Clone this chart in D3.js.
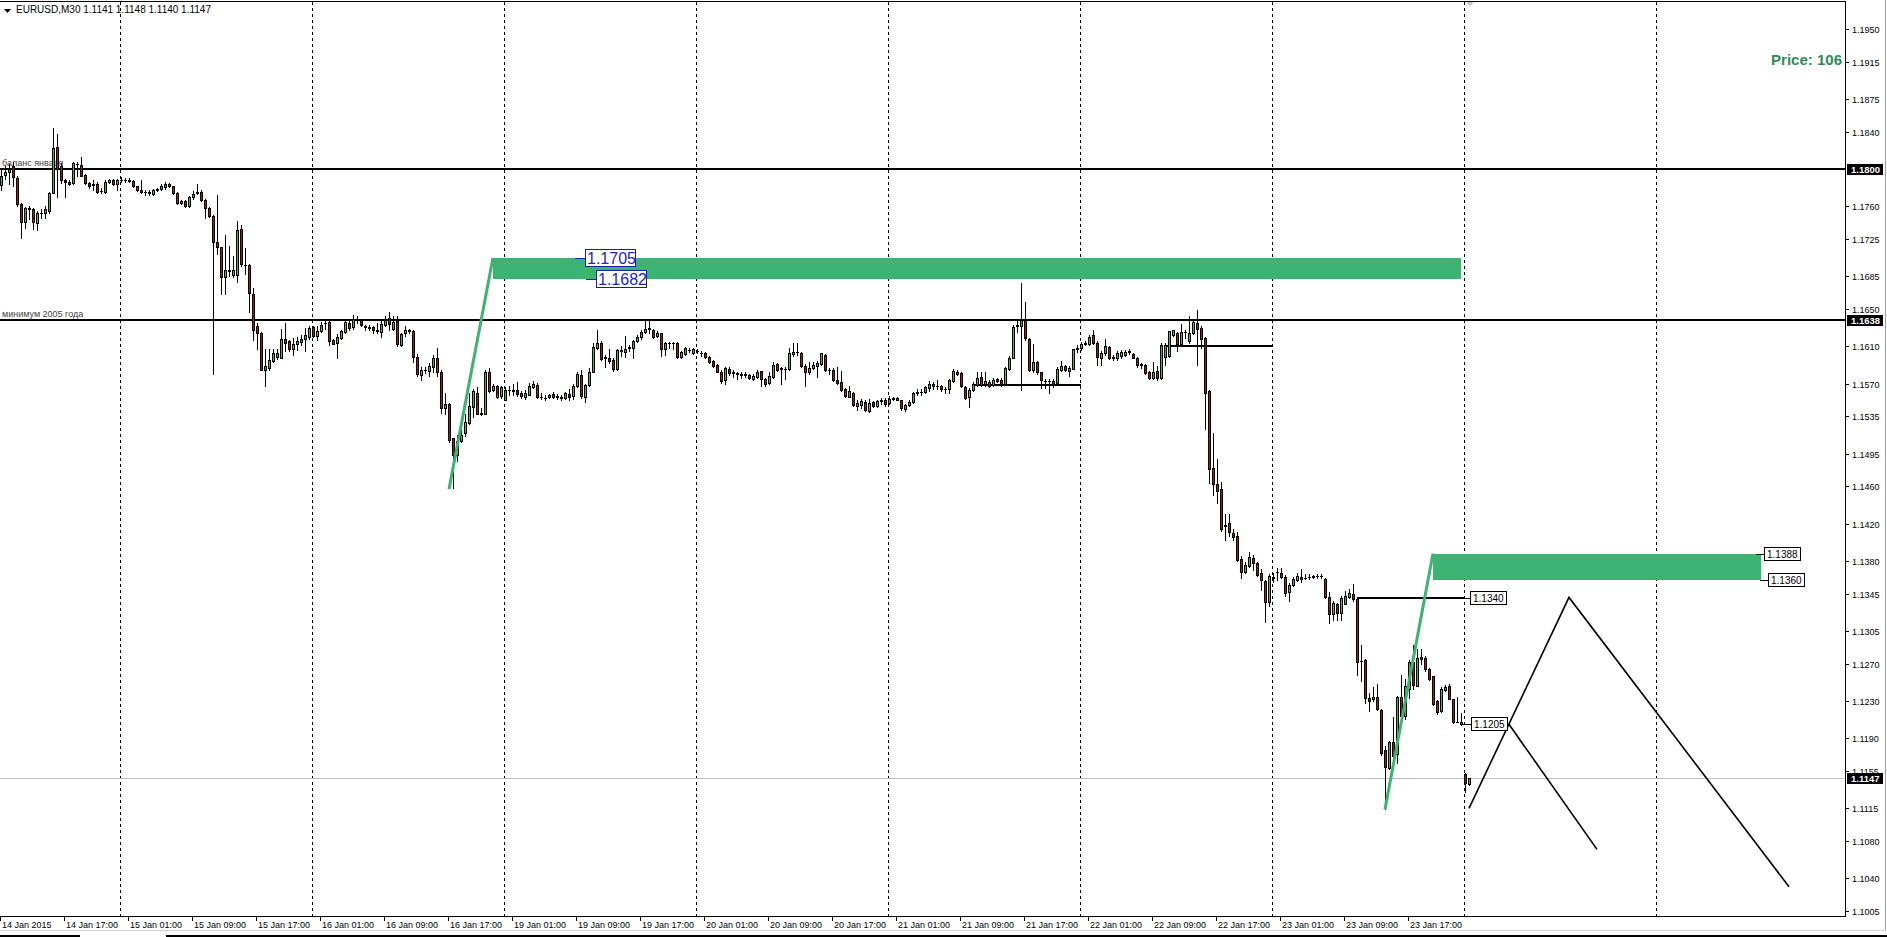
<!DOCTYPE html>
<html><head><meta charset="utf-8">
<script src="https://cdn.jsdelivr.net/npm/d3@7"></script>
<style>html,body{margin:0;padding:0;background:#fff;overflow:hidden}svg{display:block}</style>
</head><body>
<svg id="chart" width="1887" height="937"></svg>
<script>
// ---------------- DATA ----------------
const symbolName = "EURUSD,M30";
const barOpen = [
1.1783,1.1794,1.1797,1.1803,1.1790,1.1762,1.1743,1.1758,1.1757,1.1742,
1.1753,1.1753,1.1755,1.1774,1.1824,1.1803,1.1788,1.1786,1.1785,1.1805,
1.1804,1.1794,1.1785,1.1783,1.1784,1.1776,1.1775,1.1786,1.1788,1.1784,
1.1788,1.1788,1.1788,1.1787,1.1782,1.1778,1.1775,1.1775,1.1773,1.1778,
1.1779,1.1781,1.1784,1.1782,1.1774,1.1764,1.1766,1.1760,1.1770,1.1774,
1.1775,1.1767,1.1758,1.1750,1.1722,1.1716,1.1684,1.1692,1.1686,1.1686,
1.1736,1.1697,1.1697,1.1666,1.1632,1.1624,1.1585,1.1587,1.1594,1.1599,
1.1598,1.1618,1.1616,1.1607,1.1613,1.1615,1.1618,1.1620,1.1631,1.1621,
1.1626,1.1635,1.1636,1.1617,1.1614,1.1619,1.1625,1.1635,1.1631,1.1638,
1.1638,1.1632,1.1631,1.1631,1.1627,1.1625,1.1633,1.1640,1.1629,1.1637,
1.1611,1.1624,1.1627,1.1626,1.1599,1.1579,1.1585,1.1584,1.1588,1.1597,
1.1583,1.1544,1.1548,1.1512,1.1494,1.1509,1.1517,1.1528,1.1545,1.1560,
1.1538,1.1538,1.1583,1.1563,1.1567,1.1557,1.1553,1.1563,1.1563,1.1563,
1.1560,1.1556,1.1558,1.1566,1.1569,1.1556,1.1555,1.1556,1.1559,1.1556,
1.1556,1.1555,1.1559,1.1557,1.1567,1.1579,1.1556,1.1569,1.1583,1.1608,
1.1614,1.1597,1.1598,1.1595,1.1586,1.1605,1.1604,1.1608,1.1608,1.1616,
1.1620,1.1625,1.1629,1.1628,1.1621,1.1624,1.1607,1.1614,1.1614,1.1614,
1.1599,1.1602,1.1606,1.1603,1.1605,1.1603,1.1603,1.1599,1.1594,1.1590,
1.1583,1.1574,1.1586,1.1581,1.1581,1.1580,1.1580,1.1579,1.1575,1.1577,
1.1584,1.1575,1.1571,1.1577,1.1591,1.1586,1.1586,1.1586,1.1602,1.1604,
1.1603,1.1589,1.1582,1.1587,1.1589,1.1591,1.1601,1.1585,1.1585,1.1574,
1.1572,1.1564,1.1556,1.1560,1.1546,1.1547,1.1550,1.1541,1.1550,1.1546,
1.1551,1.1552,1.1549,1.1554,1.1555,1.1552,1.1543,1.1547,1.1550,1.1560,
1.1561,1.1561,1.1565,1.1570,1.1568,1.1568,1.1564,1.1564,1.1573,1.1583,
1.1581,1.1566,1.1556,1.1563,1.1569,1.1577,1.1570,1.1572,1.1569,1.1575,
1.1574,1.1570,1.1586,1.1597,1.1632,1.1632,1.1638,1.1618,1.1585,1.1593,
1.1583,1.1573,1.1573,1.1573,1.1571,1.1585,1.1589,1.1584,1.1586,1.1607,
1.1608,1.1613,1.1612,1.1622,1.1614,1.1598,1.1603,1.1609,1.1598,1.1597,
1.1600,1.1601,1.1604,1.1602,1.1597,1.1591,1.1590,1.1583,1.1576,1.1584,
1.1576,1.1599,1.1600,1.1622,1.1624,1.1612,1.1625,1.1616,1.1624,1.1635,
1.1630,1.1619,1.1562,1.1480,1.1462,1.1457,1.1417,1.1421,1.1410,1.1407,
1.1382,1.1368,1.1375,1.1383,1.1378,1.1367,1.1359,1.1336,1.1362,1.1368,
1.1367,1.1363,1.1347,1.1354,1.1360,1.1363,1.1362,1.1363,1.1363,1.1364,
1.1364,1.1361,1.1341,1.1323,1.1334,1.1324,1.1334,1.1341,1.1345,1.1339,
1.1273,1.1274,1.1233,1.1232,1.1234,1.1220,1.1177,1.1158,1.1186,1.1173,
1.1234,1.1214,1.1243,1.1272,1.1246,1.1277,1.1276,1.1264,1.1257,1.1230,
1.1219,1.1242,1.1246,1.1232,1.1208,1.1208,1.1152,1.1141];
const barHigh = [
1.1800,1.1803,1.1805,1.1807,1.1792,1.1764,1.1759,1.1760,1.1758,1.1755,
1.1757,1.1760,1.1775,1.1844,1.1838,1.1806,1.1789,1.1788,1.1807,1.1808,
1.1813,1.1795,1.1786,1.1788,1.1786,1.1780,1.1788,1.1789,1.1789,1.1789,
1.1791,1.1790,1.1790,1.1788,1.1782,1.1788,1.1777,1.1777,1.1779,1.1780,
1.1784,1.1786,1.1785,1.1782,1.1775,1.1767,1.1767,1.1771,1.1776,1.1784,
1.1777,1.1768,1.1759,1.1751,1.1772,1.1716,1.1729,1.1718,1.1707,1.1744,
1.1740,1.1715,1.1698,1.1672,1.1635,1.1625,1.1607,1.1607,1.1607,1.1607,
1.1629,1.1635,1.1617,1.1619,1.1620,1.1622,1.1630,1.1632,1.1632,1.1632,
1.1636,1.1637,1.1637,1.1618,1.1623,1.1627,1.1637,1.1639,1.1644,1.1642,
1.1639,1.1633,1.1633,1.1632,1.1635,1.1639,1.1642,1.1647,1.1643,1.1643,
1.1624,1.1632,1.1629,1.1627,1.1602,1.1588,1.1588,1.1592,1.1601,1.1608,
1.1585,1.1560,1.1549,1.1512,1.1515,1.1525,1.1537,1.1560,1.1564,1.1566,
1.1544,1.1585,1.1587,1.1570,1.1569,1.1568,1.1566,1.1568,1.1570,1.1572,
1.1562,1.1563,1.1571,1.1573,1.1571,1.1560,1.1558,1.1559,1.1561,1.1559,
1.1558,1.1561,1.1564,1.1570,1.1582,1.1585,1.1570,1.1587,1.1614,1.1627,
1.1616,1.1601,1.1607,1.1597,1.1607,1.1610,1.1621,1.1611,1.1617,1.1622,
1.1628,1.1638,1.1638,1.1629,1.1626,1.1624,1.1615,1.1615,1.1615,1.1615,
1.1605,1.1609,1.1608,1.1608,1.1607,1.1605,1.1604,1.1600,1.1595,1.1591,
1.1585,1.1588,1.1588,1.1585,1.1583,1.1582,1.1582,1.1580,1.1580,1.1585,
1.1584,1.1576,1.1582,1.1593,1.1592,1.1588,1.1588,1.1608,1.1614,1.1614,
1.1604,1.1591,1.1593,1.1593,1.1594,1.1603,1.1602,1.1587,1.1587,1.1588,
1.1584,1.1565,1.1567,1.1561,1.1552,1.1554,1.1552,1.1554,1.1551,1.1552,
1.1555,1.1555,1.1557,1.1556,1.1556,1.1553,1.1548,1.1552,1.1561,1.1564,
1.1564,1.1567,1.1573,1.1572,1.1574,1.1569,1.1566,1.1575,1.1586,1.1585,
1.1582,1.1568,1.1565,1.1572,1.1582,1.1583,1.1582,1.1574,1.1576,1.1576,
1.1576,1.1588,1.1600,1.1633,1.1639,1.1678,1.1658,1.1619,1.1613,1.1594,
1.1583,1.1575,1.1575,1.1575,1.1588,1.1594,1.1590,1.1589,1.1607,1.1611,
1.1615,1.1616,1.1622,1.1628,1.1616,1.1605,1.1618,1.1610,1.1601,1.1605,
1.1606,1.1606,1.1607,1.1603,1.1599,1.1592,1.1591,1.1584,1.1593,1.1589,
1.1614,1.1614,1.1626,1.1628,1.1625,1.1634,1.1628,1.1643,1.1638,1.1649,
1.1632,1.1620,1.1563,1.1517,1.1489,1.1465,1.1430,1.1430,1.1414,1.1411,
1.1385,1.1379,1.1390,1.1386,1.1379,1.1371,1.1360,1.1366,1.1367,1.1373,
1.1372,1.1365,1.1356,1.1363,1.1367,1.1371,1.1366,1.1366,1.1365,1.1366,
1.1366,1.1362,1.1347,1.1337,1.1335,1.1342,1.1348,1.1350,1.1355,1.1339,
1.1290,1.1275,1.1239,1.1245,1.1248,1.1221,1.1182,1.1187,1.1213,1.1235,
1.1258,1.1254,1.1274,1.1290,1.1286,1.1286,1.1278,1.1265,1.1257,1.1231,
1.1245,1.1247,1.1248,1.1232,1.1234,1.1217,1.1153,1.1148];
const barLow = [
1.1778,1.1789,1.1784,1.1782,1.1760,1.1726,1.1737,1.1746,1.1736,1.1735,
1.1748,1.1748,1.1753,1.1774,1.1770,1.1785,1.1770,1.1783,1.1784,1.1793,
1.1792,1.1784,1.1780,1.1778,1.1774,1.1774,1.1774,1.1785,1.1783,1.1778,
1.1786,1.1786,1.1786,1.1781,1.1776,1.1774,1.1772,1.1772,1.1772,1.1776,
1.1778,1.1779,1.1781,1.1773,1.1763,1.1763,1.1759,1.1759,1.1768,1.1773,
1.1766,1.1748,1.1749,1.1580,1.1709,1.1666,1.1666,1.1685,1.1684,1.1679,
1.1696,1.1687,1.1647,1.1617,1.1607,1.1585,1.1567,1.1585,1.1593,1.1596,
1.1597,1.1605,1.1605,1.1601,1.1606,1.1611,1.1605,1.1618,1.1620,1.1617,
1.1625,1.1629,1.1611,1.1612,1.1598,1.1618,1.1624,1.1628,1.1629,1.1635,
1.1632,1.1628,1.1627,1.1624,1.1624,1.1620,1.1632,1.1628,1.1628,1.1610,
1.1610,1.1621,1.1624,1.1593,1.1578,1.1574,1.1581,1.1578,1.1583,1.1578,
1.1539,1.1537,1.1508,1.1458,1.1487,1.1507,1.1514,1.1527,1.1534,1.1537,
1.1536,1.1537,1.1561,1.1562,1.1555,1.1555,1.1552,1.1558,1.1558,1.1557,
1.1555,1.1554,1.1558,1.1565,1.1555,1.1554,1.1552,1.1555,1.1555,1.1554,
1.1552,1.1554,1.1553,1.1554,1.1566,1.1555,1.1550,1.1568,1.1582,1.1607,
1.1595,1.1588,1.1592,1.1584,1.1585,1.1600,1.1599,1.1605,1.1598,1.1615,
1.1618,1.1624,1.1624,1.1619,1.1620,1.1600,1.1601,1.1608,1.1607,1.1598,
1.1598,1.1601,1.1604,1.1602,1.1603,1.1600,1.1598,1.1592,1.1588,1.1582,
1.1571,1.1570,1.1579,1.1577,1.1575,1.1576,1.1577,1.1575,1.1574,1.1576,
1.1568,1.1568,1.1570,1.1576,1.1584,1.1570,1.1575,1.1585,1.1600,1.1601,
1.1588,1.1568,1.1580,1.1586,1.1577,1.1590,1.1584,1.1580,1.1573,1.1570,
1.1562,1.1556,1.1556,1.1546,1.1542,1.1544,1.1541,1.1540,1.1545,1.1545,
1.1548,1.1546,1.1548,1.1553,1.1552,1.1542,1.1541,1.1546,1.1549,1.1558,
1.1558,1.1560,1.1562,1.1564,1.1564,1.1562,1.1560,1.1560,1.1572,1.1579,
1.1566,1.1554,1.1545,1.1562,1.1568,1.1568,1.1568,1.1566,1.1568,1.1572,
1.1568,1.1569,1.1585,1.1597,1.1625,1.1563,1.1617,1.1584,1.1582,1.1580,
1.1565,1.1565,1.1560,1.1566,1.1569,1.1584,1.1584,1.1578,1.1586,1.1604,
1.1606,1.1611,1.1611,1.1613,1.1590,1.1590,1.1601,1.1596,1.1595,1.1595,
1.1597,1.1600,1.1602,1.1597,1.1588,1.1587,1.1580,1.1575,1.1575,1.1574,
1.1575,1.1590,1.1599,1.1621,1.1605,1.1611,1.1619,1.1614,1.1623,1.1590,
1.1608,1.1521,1.1464,1.1451,1.1442,1.1412,1.1402,1.1407,1.1403,1.1380,
1.1362,1.1367,1.1374,1.1370,1.1364,1.1349,1.1315,1.1332,1.1357,1.1360,
1.1362,1.1342,1.1337,1.1353,1.1359,1.1358,1.1361,1.1361,1.1362,1.1362,
1.1362,1.1340,1.1314,1.1317,1.1317,1.1317,1.1334,1.1340,1.1337,1.1258,
1.1251,1.1228,1.1219,1.1230,1.1220,1.1172,1.1114,1.1157,1.1171,1.1164,
1.1212,1.1211,1.1233,1.1243,1.1246,1.1270,1.1262,1.1253,1.1226,1.1216,
1.1218,1.1241,1.1232,1.1206,1.1207,1.1204,1.1133,1.1140];
const barClose = [
1.1793,1.1797,1.1800,1.1791,1.1762,1.1743,1.1758,1.1757,1.1743,1.1753,
1.1753,1.1757,1.1774,1.1823,1.1800,1.1788,1.1786,1.1784,1.1806,1.1805,
1.1793,1.1785,1.1782,1.1784,1.1775,1.1776,1.1786,1.1788,1.1784,1.1788,
1.1788,1.1788,1.1787,1.1782,1.1777,1.1775,1.1775,1.1774,1.1778,1.1779,
1.1782,1.1784,1.1782,1.1774,1.1764,1.1766,1.1760,1.1770,1.1773,1.1775,
1.1767,1.1758,1.1750,1.1722,1.1716,1.1684,1.1692,1.1691,1.1692,1.1735,
1.1698,1.1697,1.1667,1.1628,1.1624,1.1585,1.1589,1.1595,1.1603,1.1603,
1.1618,1.1614,1.1607,1.1613,1.1616,1.1618,1.1622,1.1630,1.1621,1.1626,
1.1633,1.1635,1.1616,1.1613,1.1620,1.1626,1.1636,1.1630,1.1639,1.1638,
1.1633,1.1631,1.1630,1.1627,1.1626,1.1634,1.1638,1.1634,1.1636,1.1612,
1.1623,1.1627,1.1626,1.1599,1.1580,1.1585,1.1585,1.1589,1.1597,1.1583,
1.1544,1.1548,1.1510,1.1494,1.1509,1.1515,1.1529,1.1546,1.1562,1.1538,
1.1539,1.1583,1.1562,1.1567,1.1556,1.1566,1.1563,1.1563,1.1562,1.1559,
1.1557,1.1560,1.1568,1.1570,1.1556,1.1556,1.1555,1.1558,1.1556,1.1557,
1.1555,1.1560,1.1556,1.1568,1.1580,1.1557,1.1569,1.1582,1.1609,1.1614,
1.1596,1.1599,1.1594,1.1586,1.1606,1.1606,1.1607,1.1609,1.1616,1.1620,
1.1625,1.1629,1.1630,1.1620,1.1624,1.1607,1.1614,1.1614,1.1614,1.1599,
1.1604,1.1608,1.1606,1.1607,1.1605,1.1603,1.1599,1.1593,1.1589,1.1583,
1.1573,1.1587,1.1581,1.1583,1.1580,1.1579,1.1579,1.1576,1.1578,1.1583,
1.1575,1.1570,1.1578,1.1590,1.1585,1.1587,1.1586,1.1603,1.1604,1.1604,
1.1589,1.1582,1.1587,1.1590,1.1592,1.1603,1.1585,1.1585,1.1574,1.1571,
1.1563,1.1557,1.1562,1.1547,1.1549,1.1551,1.1542,1.1549,1.1546,1.1551,
1.1553,1.1548,1.1554,1.1555,1.1553,1.1544,1.1547,1.1550,1.1560,1.1561,
1.1561,1.1566,1.1570,1.1568,1.1568,1.1564,1.1564,1.1574,1.1584,1.1580,
1.1567,1.1555,1.1563,1.1570,1.1576,1.1569,1.1573,1.1568,1.1574,1.1573,
1.1570,1.1587,1.1598,1.1631,1.1633,1.1638,1.1619,1.1585,1.1593,1.1582,
1.1574,1.1573,1.1573,1.1570,1.1586,1.1589,1.1585,1.1587,1.1607,1.1608,
1.1613,1.1614,1.1620,1.1614,1.1599,1.1603,1.1610,1.1597,1.1599,1.1603,
1.1604,1.1604,1.1605,1.1598,1.1590,1.1590,1.1581,1.1576,1.1583,1.1576,
1.1611,1.1611,1.1626,1.1627,1.1613,1.1625,1.1625,1.1624,1.1636,1.1629,
1.1618,1.1560,1.1479,1.1462,1.1455,1.1414,1.1419,1.1411,1.1406,1.1381,
1.1368,1.1376,1.1384,1.1378,1.1365,1.1360,1.1336,1.1364,1.1363,1.1368,
1.1363,1.1346,1.1354,1.1361,1.1364,1.1361,1.1362,1.1363,1.1364,1.1364,
1.1364,1.1341,1.1323,1.1335,1.1324,1.1340,1.1342,1.1346,1.1339,1.1272,
1.1273,1.1233,1.1230,1.1234,1.1221,1.1174,1.1159,1.1186,1.1171,1.1234,
1.1214,1.1246,1.1272,1.1247,1.1276,1.1275,1.1264,1.1254,1.1227,1.1218,
1.1243,1.1245,1.1232,1.1207,1.1208,1.1205,1.1142,1.1147];

// time axis (bar index of each label, label text)
const timeTickBars   = [0,16,32,48,64,80,96,112,128,144,160,176,192,208,224,240,256,272,288,304,320,336,352];
const timeTickLabels = ["14 Jan 2015","14 Jan 17:00","15 Jan 01:00","15 Jan 09:00","15 Jan 17:00","16 Jan 01:00","16 Jan 09:00","16 Jan 17:00","19 Jan 01:00","19 Jan 09:00","19 Jan 17:00","20 Jan 01:00","20 Jan 09:00","20 Jan 17:00","21 Jan 01:00","21 Jan 09:00","21 Jan 17:00","22 Jan 01:00","22 Jan 09:00","22 Jan 17:00","23 Jan 01:00","23 Jan 09:00","23 Jan 17:00"];
const gridBars = [30,78,126,174,222,270,318,366,414];
// price axis ticks
const priceTicks = [1.1950,1.1915,1.1875,1.1840,1.1760,1.1725,1.1685,1.1650,1.1610,1.1570,1.1535,1.1495,1.1460,1.1420,1.1380,1.1345,1.1305,1.1270,1.1230,1.1190,1.1155,1.1115,1.1080,1.1040,1.1005];

// horizontal levels (full width) and their captions
const levelPrices = [1.1800, 1.1638];
const levelCaptions = ["баланс января", "минимум 2005 года"];
// short horizontal segments: [startBar, endBar, price]
const segStart = [243, 291, 339];
const segEnd   = [270, 318, 366];
const segPrice = [1.1569, 1.1610, 1.1340];
// green zones
const zoneStart = [123, 358];
const zoneEnd   = [365, 440];
const zoneTop   = [1.1705, 1.1388];
const zoneBottom= [1.1682, 1.1360];
// green impulse lines
const impStartBar=[112,346], impStartPrice=[1.1457,1.1114];
const impEndBar=[123,358],   impEndPrice=[1.1705,1.1388];
// projected zigzag (black)
const projA_bars=[367,392,447], projA_prices=[1.1115,1.1341,1.1031];
const projB_bars=[377,399],     projB_prices=[1.1205,1.1071];
// blue price labels
const blueLabelPrices=[1.1705,1.1682], blueLabelBars=[146,148.7];
// boxed price labels on chart
const boxLabelTexts=["1.1340","1.1205","1.1388","1.1360"];
const boxLabelPrices=[1.1340,1.1205,1.1388,1.1360];
const boxLabelBars=[367.2,367.5,440.8,441.8];
// right-axis highlighted labels
const axisMarkPrices=[1.1800,1.1638,1.1147];
const bidPrice = 1.1147;
const infoText = "Price: 106";

// ---------------- LAYOUT ----------------
const plotRight=1845, plotBottom=916;
const svg=d3.select("#chart");
const x=d3.scaleLinear().domain([0,461]).range([1,1845]);
const y=d3.scaleLinear().domain([1.1005,1.1950]).range([911,29]);
const px=i=>Math.round(x(i));
const py=p=>Math.round(y(p));
const FONT="'Liberation Sans', Arial, sans-serif";

svg.append("clipPath").attr("id","plotclip").append("rect").attr("x",0).attr("y",0).attr("width",plotRight).attr("height",plotBottom);
const plot=svg.append("g").attr("clip-path","url(#plotclip)");

// vertical dashed grid
plot.selectAll("line.grid").data(gridBars).enter().append("line")
  .attr("x1",d=>px(d)-0.5).attr("x2",d=>px(d)-0.5).attr("y1",2).attr("y2",plotBottom)
  .attr("stroke","#000").attr("stroke-width",1).attr("stroke-dasharray","3,3").attr("shape-rendering","crispEdges");

// bid line
plot.append("line").attr("x1",0).attr("x2",plotRight).attr("y1",py(bidPrice)+0.5).attr("y2",py(bidPrice)+0.5)
  .attr("stroke","#c0c0c0").attr("stroke-width",1).attr("shape-rendering","crispEdges");

// green zones
plot.selectAll("rect.zone").data(zoneStart).enter().append("rect")
  .attr("x",(d,i)=>px(d)).attr("width",(d,i)=>px(zoneEnd[i])-px(d))
  .attr("y",(d,i)=>py(zoneTop[i])).attr("height",(d,i)=>py(zoneBottom[i])-py(zoneTop[i]))
  .attr("fill","#3cb371");

// level lines
plot.selectAll("line.level").data(levelPrices).enter().append("line")
  .attr("x1",0).attr("x2",plotRight).attr("y1",d=>py(d)).attr("y2",d=>py(d))
  .attr("stroke","#000").attr("stroke-width",2).attr("shape-rendering","crispEdges");
plot.selectAll("text.cap").data(levelCaptions).enter().append("text")
  .attr("x",2).attr("y",(d,i)=>py(levelPrices[i])-3).text(d=>d)
  .attr("font-family",FONT).attr("font-size",9).attr("fill","#444");

// short segments
plot.selectAll("line.seg").data(segStart).enter().append("line")
  .attr("x1",d=>px(d)).attr("x2",(d,i)=>px(segEnd[i])).attr("y1",(d,i)=>py(segPrice[i])).attr("y2",(d,i)=>py(segPrice[i]))
  .attr("stroke","#000").attr("stroke-width",2).attr("shape-rendering","crispEdges");

// candles
const idx=d3.range(barOpen.length);
const cg=plot.append("g").attr("shape-rendering","crispEdges");
cg.selectAll("line.wick").data(idx).enter().append("line")
  .attr("x1",i=>px(i)+0.5).attr("x2",i=>px(i)+0.5)
  .attr("y1",i=>py(barHigh[i])).attr("y2",i=>py(barLow[i])+1)
  .attr("stroke","#000").attr("stroke-width",1);
cg.selectAll("rect.body").data(idx.filter(i=>py(barOpen[i])!==py(barClose[i]))).enter().append("rect")
  .attr("x",i=>px(i)-0.5).attr("width",2)
  .attr("y",i=>Math.min(py(barOpen[i]),py(barClose[i]))+0.5)
  .attr("height",i=>Math.abs(py(barOpen[i])-py(barClose[i])))
  .attr("fill",i=>barClose[i]>barOpen[i]?"#45b05f":"#9b1b1b")
  .attr("stroke","#000").attr("stroke-width",1);
cg.selectAll("line.doji").data(idx.filter(i=>py(barOpen[i])===py(barClose[i]))).enter().append("line")
  .attr("x1",i=>px(i)-1).attr("x2",i=>px(i)+2)
  .attr("y1",i=>py(barClose[i])+0.5).attr("y2",i=>py(barClose[i])+0.5)
  .attr("stroke","#000").attr("stroke-width",1);

// green impulse lines
plot.selectAll("line.imp").data(impStartBar).enter().append("line")
  .attr("x1",d=>x(d)).attr("y1",(d,i)=>y(impStartPrice[i]))
  .attr("x2",(d,i)=>x(impEndBar[i])).attr("y2",(d,i)=>y(impEndPrice[i]))
  .attr("stroke","#3cb371").attr("stroke-width",3);

// projected zigzag
const lineGen=d3.line().x(d=>x(d[0])).y(d=>y(d[1]));
plot.append("path").attr("d",lineGen(projA_bars.map((b,i)=>[b,projA_prices[i]])))
  .attr("fill","none").attr("stroke","#000").attr("stroke-width",1.6);
plot.append("path").attr("d",lineGen(projB_bars.map((b,i)=>[b,projB_prices[i]])))
  .attr("fill","none").attr("stroke","#000").attr("stroke-width",1.6);

// blue labels
const fmt=d3.format(".4f");
blueLabelPrices.forEach((p,i)=>{
  const bx=px(blueLabelBars[i]), by=py(p);
  plot.append("line").attr("x1",bx-10).attr("x2",bx).attr("y1",by+0.5).attr("y2",by+0.5)
    .attr("stroke","#1c1ca0").attr("stroke-width",1).attr("shape-rendering","crispEdges");
  plot.append("rect").attr("x",bx+0.5).attr("y",by-8.5).attr("width",50).attr("height",17)
    .attr("fill","#fff").attr("stroke","#1c1ca0").attr("stroke-width",1).attr("shape-rendering","crispEdges");
  plot.append("text").attr("x",bx+2).attr("y",by+6).text(fmt(p))
    .attr("font-family",FONT).attr("font-size",16).attr("fill","#2323c8");
});

// boxed price labels
boxLabelTexts.forEach((t,i)=>{
  const bx=px(boxLabelBars[i]), by=py(boxLabelPrices[i]);
  plot.append("line").attr("x1",bx-8).attr("x2",bx).attr("y1",by+0.5).attr("y2",by+0.5)
    .attr("stroke","#000").attr("stroke-width",1).attr("shape-rendering","crispEdges");
  plot.append("rect").attr("x",bx+0.5).attr("y",by-6.5).attr("width",36).attr("height",13)
    .attr("fill","#fff").attr("stroke","#000").attr("stroke-width",1).attr("shape-rendering","crispEdges");
  plot.append("text").attr("x",bx+3).attr("y",by+4).text(t)
    .attr("font-family",FONT).attr("font-size",10).attr("fill","#000");
});

// info text
svg.append("text").attr("x",1842).attr("y",65).attr("text-anchor","end").text(infoText)
  .attr("font-family",FONT).attr("font-size",15).attr("font-weight","bold").attr("fill","#2e8b57");

// header
svg.append("path").attr("d","M4,9 L11,9 L7.5,13 Z").attr("fill","#000");
const last=barOpen.length-1;
svg.append("text").attr("x",16).attr("y",13)
  .text(symbolName+"  "+[barOpen[last],barHigh[last],barLow[last],barClose[last]].map(fmt).join(" "))
  .attr("font-family",FONT).attr("font-size",10).attr("fill","#000");
// shift marker
svg.append("path").attr("d","M1466,2 L1474,2 L1470,6 Z").attr("fill","#c8c8c8");

// frame
svg.append("line").attr("x1",0).attr("x2",plotRight).attr("y1",1.5).attr("y2",1.5).attr("stroke","#000").attr("shape-rendering","crispEdges");
svg.append("line").attr("x1",plotRight+0.5).attr("x2",plotRight+0.5).attr("y1",1).attr("y2",plotBottom+1).attr("stroke","#000").attr("shape-rendering","crispEdges");
svg.append("line").attr("x1",0).attr("x2",plotRight+1).attr("y1",plotBottom+0.5).attr("y2",plotBottom+0.5).attr("stroke","#000").attr("shape-rendering","crispEdges");
// window edges
svg.append("line").attr("x1",1885.5).attr("x2",1885.5).attr("y1",0).attr("y2",931).attr("stroke","#a0a0a0").attr("shape-rendering","crispEdges");
svg.append("line").attr("x1",0).attr("x2",1887).attr("y1",930.5).attr("y2",930.5).attr("stroke","#d4d4d4").attr("shape-rendering","crispEdges");
svg.append("line").attr("x1",0).attr("x2",80).attr("y1",935.5).attr("y2",935.5).attr("stroke","#000").attr("stroke-width",2).attr("shape-rendering","crispEdges");
svg.append("line").attr("x1",166).attr("x2",1887).attr("y1",935.5).attr("y2",935.5).attr("stroke","#000").attr("stroke-width",2).attr("shape-rendering","crispEdges");

// right axis
const ra=svg.append("g").attr("shape-rendering","crispEdges");
ra.selectAll("line.t").data(priceTicks).enter().append("line")
  .attr("x1",plotRight).attr("x2",plotRight+4).attr("y1",d=>py(d)+0.5).attr("y2",d=>py(d)+0.5).attr("stroke","#000");
svg.selectAll("text.pt").data(priceTicks).enter().append("text")
  .attr("x",plotRight+7).attr("y",d=>py(d)+3.5).text(d=>fmt(d))
  .attr("font-family",FONT).attr("font-size",9).attr("fill","#000");
axisMarkPrices.forEach(p=>{
  svg.append("rect").attr("x",plotRight+2).attr("y",py(p)-5).attr("width",36).attr("height",11).attr("fill","#000");
  svg.append("text").attr("x",plotRight+6).attr("y",py(p)+4).text(fmt(p))
    .attr("font-family",FONT).attr("font-size",9.5).attr("font-weight","bold").attr("fill","#fff");
});

// bottom axis
svg.selectAll("line.bt").data(timeTickBars).enter().append("line")
  .attr("x1",d=>px(d)-0.5).attr("x2",d=>px(d)-0.5).attr("y1",plotBottom).attr("y2",plotBottom+5)
  .attr("stroke","#000").attr("shape-rendering","crispEdges");
svg.selectAll("text.bl").data(timeTickBars).enter().append("text")
  .attr("x",d=>px(d)+1).attr("y",plotBottom+12).text((d,i)=>timeTickLabels[i])
  .attr("font-family",FONT).attr("font-size",9).attr("fill","#000");
</script>
</body></html>
